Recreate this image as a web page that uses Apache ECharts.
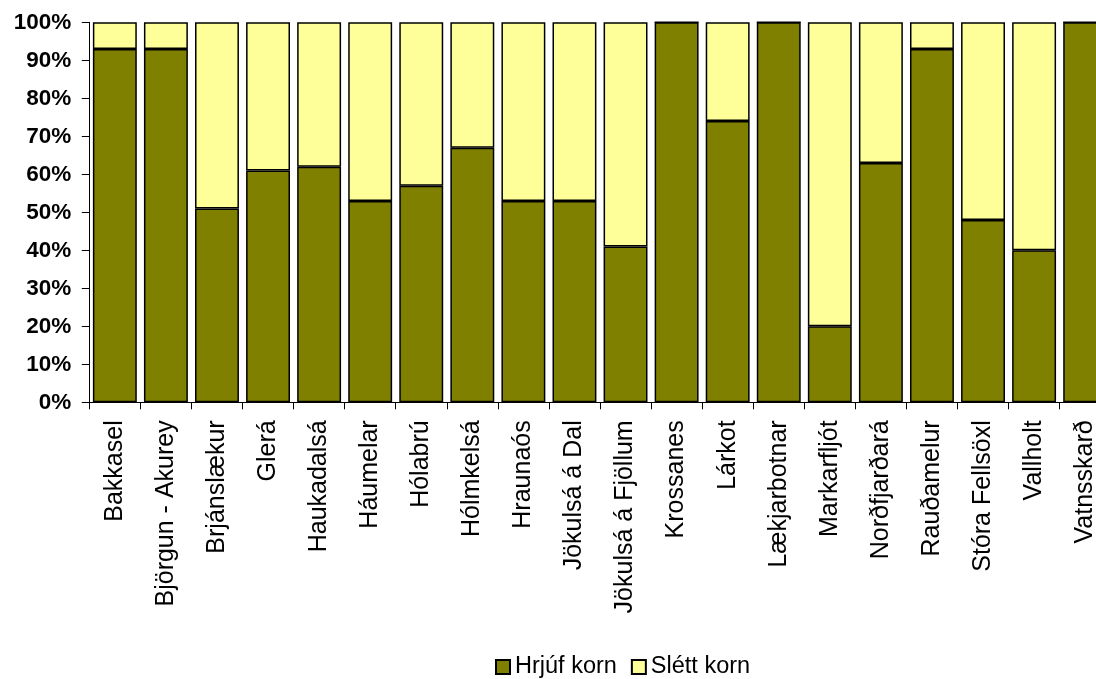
<!DOCTYPE html>
<html>
<head>
<meta charset="utf-8">
<script src="https://cdn.jsdelivr.net/npm/echarts@6/dist/echarts.min.js"></script>
<style>
html,body{margin:0;padding:0;background:#fff;}
#chart{width:1096px;height:679px;}
</style>
</head>
<body>
<div id="chart"></div>
<script>
const categories = ["Bakkasel","Björgun - Akurey","Brjánslækur","Glerá","Haukadalsá","Háumelar","Hólabrú","Hólmkelsá","Hraunaós","Jökulsá á Dal","Jökulsá á Fjöllum","Krossanes","Lárkot","Lækjarbotnar","Markarfljót","Norðfjarðará","Rauðamelur","Stóra Fellsöxl","Vallholt","Vatnsskarð"];
const hrjufKorn = [93,93,51,61,62,53,57,67,53,53,41,100,74,100,20,63,93,48,40,100];
const slettKorn = [7,7,49,39,38,47,43,33,47,47,59,0,26,0,80,37,7,52,60,0];
const yTicks = [0,10,20,30,40,50,60,70,80,90,100];

const chart = echarts.init(document.getElementById('chart'), null, {renderer:'canvas'});
const font = '"Liberation Sans", Arial, sans-serif';
chart.setOption({
  animation:false,
  backgroundColor:'#ffffff',
  grid:{left:89.3, top:22.3, height:380, width:1021.4, containLabel:false, outerBoundsMode:'none'},
  legend:{
    left:490, top:650,
    itemWidth:14, itemHeight:14, itemGap:14,
    icon:'rect',
    textStyle:{fontFamily:font, fontSize:23.5, color:'#000'},
    data:['Hrjúf korn','Slétt korn']
  },
  xAxis:{
    type:'category', data:categories,
    axisLine:{show:true, lineStyle:{color:'#000', width:1}},
    axisTick:{show:true, length:7, alignWithLabel:false, lineStyle:{color:'#000'}},
    axisLabel:{rotate:90, margin:18, interval:0, fontFamily:font, fontSize:25, color:'#000'},
    splitLine:{show:false}
  },
  yAxis:{
    type:'value', min:yTicks[0], max:yTicks[yTicks.length-1], interval:10,
    axisLine:{show:true, lineStyle:{color:'#000', width:1}},
    axisTick:{show:true, length:7.5, lineStyle:{color:'#000'}},
    axisLabel:{formatter:'{value}%', margin:18, fontFamily:font, fontSize:22.5, fontWeight:'bold', color:'#000'},
    splitLine:{show:false}
  },
  series:[
    {name:'Hrjúf korn', type:'bar', stack:'a', data:hrjufKorn, barWidth:'86%',
     itemStyle:{color:'#808000', borderColor:'#000', borderWidth:1.5}},
    {name:'Slétt korn', type:'bar', stack:'a', data:slettKorn, barWidth:'86%',
     itemStyle:{color:'#FFFF99', borderColor:'#000', borderWidth:1.5}}
  ]
});
</script>
</body>
</html>
